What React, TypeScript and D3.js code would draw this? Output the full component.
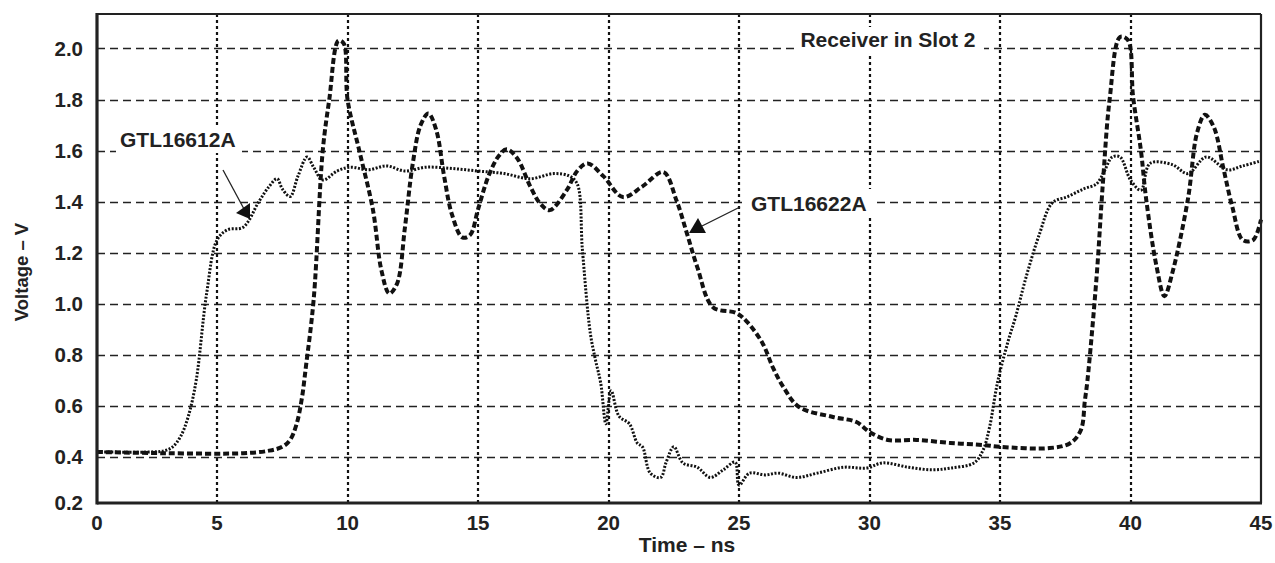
import React from 'react'
import * as d3 from 'd3'

// time axis (ns) and voltage axis (V)
const xTicks = [0, 5, 10, 15, 20, 25, 30, 35, 40, 45]
const yTicks = [0.2, 0.4, 0.6, 0.8, 1.0, 1.2, 1.4, 1.6, 1.8, 2.0]

// GTL16612A - fine dotted trace
const tA = [
  0.4, 2.5, 3.0, 3.3, 3.6, 3.9, 4.2, 4.6, 5.0, 5.4, 6.0, 6.6, 7.0, 7.3, 7.5, 7.8, 8.1, 8.45, 8.7, 9.05,
  9.6, 10.1, 10.8, 11.5, 12.2, 13.0, 14.0, 15.0, 16.0, 17.0, 17.9, 18.5, 18.8, 19.0, 19.3, 19.5, 19.7,
  19.9, 20.1, 20.4, 20.8, 21.1, 21.3, 21.6, 22.0, 22.2, 22.5, 22.85, 23.4, 23.9, 24.4, 24.85, 25.0, 25.4,
  26.0, 26.5, 27.2, 28.0, 29.0, 29.9, 30.5, 31.5, 32.4, 33.1, 34.0, 34.35, 34.6, 34.9, 35.3, 35.6, 36.0,
  36.5, 37.0, 37.6, 38.2, 38.7, 39.0, 39.3, 39.6, 40.0, 40.4, 40.75, 41.6, 42.2, 42.9, 43.7, 44.3, 45.0,
]
const vA = [
  0.42, 0.42, 0.425, 0.44, 0.48, 0.56, 0.7, 1.04, 1.25, 1.29, 1.3, 1.4, 1.46, 1.49, 1.45, 1.42, 1.5, 1.575,
  1.535, 1.485, 1.52, 1.535, 1.525, 1.54, 1.52, 1.535, 1.53, 1.52, 1.51, 1.49, 1.51, 1.5, 1.47, 1.21, 0.886,
  0.78, 0.69, 0.53, 0.66, 0.56, 0.53, 0.455, 0.44, 0.337, 0.32, 0.377, 0.44, 0.377, 0.36, 0.32, 0.35, 0.38,
  0.29, 0.337, 0.33, 0.337, 0.32, 0.337, 0.36, 0.357, 0.377, 0.36, 0.35, 0.357, 0.377, 0.427, 0.517, 0.69,
  0.85, 0.95, 1.105, 1.27, 1.395, 1.42, 1.45, 1.47, 1.52, 1.575, 1.575, 1.485, 1.445, 1.55, 1.545, 1.51,
  1.575, 1.525, 1.54, 1.56,
]

// GTL16622A - heavy dashed trace
const tB = [
  0.4, 3.0, 6.0, 7.0, 7.5, 7.8, 8.05, 8.25, 8.4, 8.7, 9.05, 9.3, 9.65, 9.85, 10.0, 10.45, 10.97, 11.3,
  11.6, 11.9, 12.2, 12.5, 12.8, 13.1, 13.4, 13.7, 14.0, 14.4, 14.7, 15.0, 15.4, 15.8, 16.1, 16.5, 17.0,
  17.4, 17.75, 18.4, 18.8, 19.2, 19.8, 20.55, 21.3, 22.1, 22.6, 23.0, 23.4, 24.0, 24.9, 25.3, 25.9, 26.3,
  26.7, 27.3, 28.6, 29.5, 30.0, 30.7, 31.8, 33.1, 34.35, 35.0, 36.9, 37.7, 38.1, 38.25, 38.35, 38.7, 38.95,
  39.2, 39.6, 39.9, 40.1, 40.4, 40.6, 41.0, 41.3, 41.6, 42.2, 42.55, 42.85, 43.2, 43.55, 43.9, 44.3, 44.7,
  45.0,
]
const vB = [
  0.42, 0.415, 0.415, 0.425, 0.44, 0.467, 0.53, 0.63, 0.75, 1.015, 1.6, 1.8, 2.03, 2.02, 1.8, 1.6, 1.37,
  1.13, 1.04, 1.08, 1.3, 1.55, 1.7, 1.745, 1.68, 1.5, 1.35, 1.26, 1.27, 1.37, 1.5, 1.58, 1.605, 1.57, 1.46,
  1.39, 1.367, 1.445, 1.52, 1.55, 1.5, 1.418, 1.46, 1.516, 1.406, 1.277, 1.144, 0.987, 0.964, 0.93, 0.846,
  0.75, 0.674, 0.596, 0.557, 0.537, 0.498, 0.467, 0.467, 0.455, 0.447, 0.44, 0.435, 0.455, 0.506, 0.62,
  0.7, 1.105, 1.485, 1.8, 2.045, 2.033, 1.81, 1.6, 1.41, 1.145, 1.03, 1.12, 1.41, 1.67, 1.74, 1.69, 1.535,
  1.38, 1.25, 1.25, 1.33,
]

const W = 1275
const H = 563
const left = 97
const right = 1261
const top = 14
const bottom = 503

const font = 'Liberation Sans, Arial, Helvetica, sans-serif'

export default function App() {
  const x = d3.scaleLinear().domain([0.4, 45]).range([left, right])
  const y = d3.scaleLinear().domain([0.22, 2.135]).range([bottom, top])

  const line = d3
    .line<[number, number]>()
    .x((d) => x(d[0]))
    .y((d) => y(d[1]))
    .curve(d3.curveCatmullRom.alpha(0.5))

  const dataA = tA.map((t, i) => [t, vA[i]] as [number, number])
  const dataB = tB.map((t, i) => [t, vB[i]] as [number, number])

  return (
    <svg width={W} height={H} style={{ position: 'absolute', left: 0, top: 0, background: '#fff' }}>
      {/* grid */}
      {yTicks
        .filter((v) => v > 0.3)
        .map((v) => (
          <line key={'h' + v} x1={left} x2={right} y1={Math.round(y(v)) + 0.5} y2={Math.round(y(v)) + 0.5} stroke="#222" strokeWidth={1.5} strokeDasharray="8,5" />
        ))}
      {xTicks
        .filter((t) => t > 0 && t < 45)
        .map((t) => (
          <line key={'v' + t} x1={Math.round(x(t))} x2={Math.round(x(t))} y1={top} y2={bottom} stroke="#111" strokeWidth={2.2} strokeDasharray="3,3" />
        ))}

      {/* label boxes hide the grid */}
      <rect x={116} y={127} width={126} height={26} fill="#fff" />
      <rect x={745} y={189} width={128} height={27} fill="#fff" />
      <rect x={794} y={27} width={190} height={27} fill="#fff" />

      {/* traces */}
      <path d={line(dataA) || ''} fill="none" stroke="#111" strokeWidth={3} strokeDasharray="2,1.6" />
      <path d={line(dataB) || ''} fill="none" stroke="#111" strokeWidth={4} strokeDasharray="6,3" />

      {/* frame */}
      <line x1={left} x2={right} y1={top} y2={top} stroke="#222" strokeWidth={2.2} />
      <line x1={right} x2={right} y1={top} y2={bottom} stroke="#222" strokeWidth={2.2} />
      <line x1={left} x2={left} y1={top - 1} y2={bottom + 1.5} stroke="#222" strokeWidth={3.2} />
      <line x1={left} x2={right + 1} y1={bottom} y2={bottom} stroke="#222" strokeWidth={3.2} />

      {/* tick labels */}
      {yTicks.map((v) => (
        <text key={'yl' + v} x={83} y={Math.min(y(v), bottom)} dy="0.36em" textAnchor="end" fontFamily={font} fontWeight="bold" fontSize={20.5} fill="#222">
          {v.toFixed(1)}
        </text>
      ))}
      {xTicks.map((t) => (
        <text key={'xl' + t} x={x(Math.max(t, 0.4))} y={530} textAnchor="middle" fontFamily={font} fontWeight="bold" fontSize={20.5} fill="#222">
          {t}
        </text>
      ))}

      {/* axis titles */}
      <text x={687} y={552} textAnchor="middle" fontFamily={font} fontWeight="bold" fontSize={21} fill="#222">
        Time – ns
      </text>
      <text transform="translate(28,272) rotate(-90)" textAnchor="middle" fontFamily={font} fontWeight="bold" fontSize={18.5} fill="#222">
        Voltage – V
      </text>

      {/* annotations */}
      <text x={888} y={47} textAnchor="middle" fontFamily={font} fontWeight="bold" fontSize={21} fill="#222">
        Receiver in Slot 2
      </text>
      <text x={120} y={147} fontFamily={font} fontWeight="bold" fontSize={21} fill="#222">
        GTL16612A
      </text>
      <line x1={223} y1={170} x2={244} y2={209} stroke="#222" strokeWidth={1.3} />
      <polygon points="236,213 250,203 250,219" fill="#111" />
      <text x={751} y={211} fontFamily={font} fontWeight="bold" fontSize={21} fill="#222">
        GTL16622A
      </text>
      <line x1={740} y1={207} x2={702} y2={226} stroke="#222" strokeWidth={1.3} />
      <polygon points="689,233 706,233 698,218" fill="#111" />
    </svg>
  )
}
